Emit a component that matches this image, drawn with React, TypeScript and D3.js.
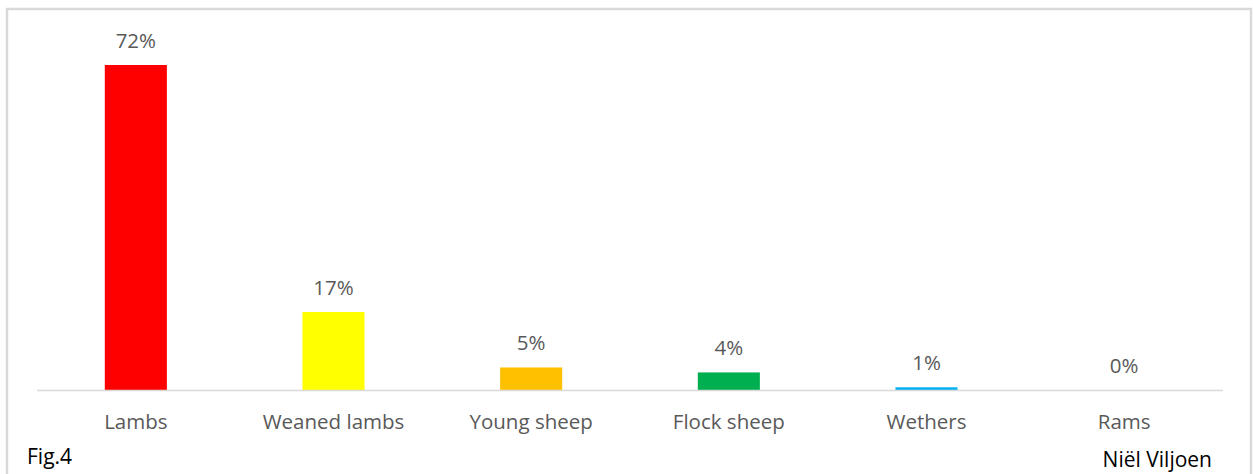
import React from "react";
import * as d3 from "d3";

const categories = ["Lambs", "Weaned lambs", "Young sheep", "Flock sheep", "Wethers", "Rams"];
const values = [72.1, 17.3, 5.0, 3.9, 0.6, 0.0];
const labels = ["72%", "17%", "5%", "4%", "1%", "0%"];
const colors = ["#ff0000", "#ffff00", "#ffc000", "#00b050", "#00b0f0", "#7030a0"];
const figLabel = "Fig.4";
const author = "Niël Viljoen";

const W = 1253;
const H = 474;
const FONT = "'Open Sans', 'Liberation Sans', sans-serif";

export default function App() {
  const x = d3
    .scaleBand<string>()
    .domain(categories)
    .range([37, 1223])
    .paddingInner(0.686)
    .paddingOuter(0.343);
  const y = d3.scaleLinear().domain([0, 80]).range([390, 29.4]);

  return (
    <svg
      width={W}
      height={H}
      style={{ position: "absolute", left: 0, top: 0, background: "#fff" }}
      fontFamily={FONT}
    >
      <rect x={0} y={0} width={W} height={H} fill="#fff" />
      <rect x={7} y={9} width={1244} height={500} fill="none" stroke="#d9d9d9" strokeWidth={2.5} />
      {categories.map((c, i) => {
        const bx = x(c)!;
        const by = y(values[i]);
        return (
          <g key={c}>
            <rect x={bx} y={by} width={x.bandwidth()} height={y(0) - by} fill={colors[i]} />
            <text
              x={bx + x.bandwidth() / 2}
              y={by - 17}
              textAnchor="middle"
              fontSize={20.5}
              fill="#595959"
            >
              {labels[i]}
            </text>
            <text
              x={bx + x.bandwidth() / 2}
              y={429}
              textAnchor="middle"
              fontSize={20.5}
              fill="#595959"
            >
              {c}
            </text>
          </g>
        );
      })}
      <line x1={37} x2={1223} y1={y(0) + 0.5} y2={y(0) + 0.5} stroke="#d9d9d9" strokeWidth={1.5} />
      <text x={27} y={463.5} fontSize={21} fill="#000">
        {figLabel}
      </text>
      <text x={1212} y={466.5} fontSize={21} fill="#000" textAnchor="end">
        {author}
      </text>
    </svg>
  );
}
